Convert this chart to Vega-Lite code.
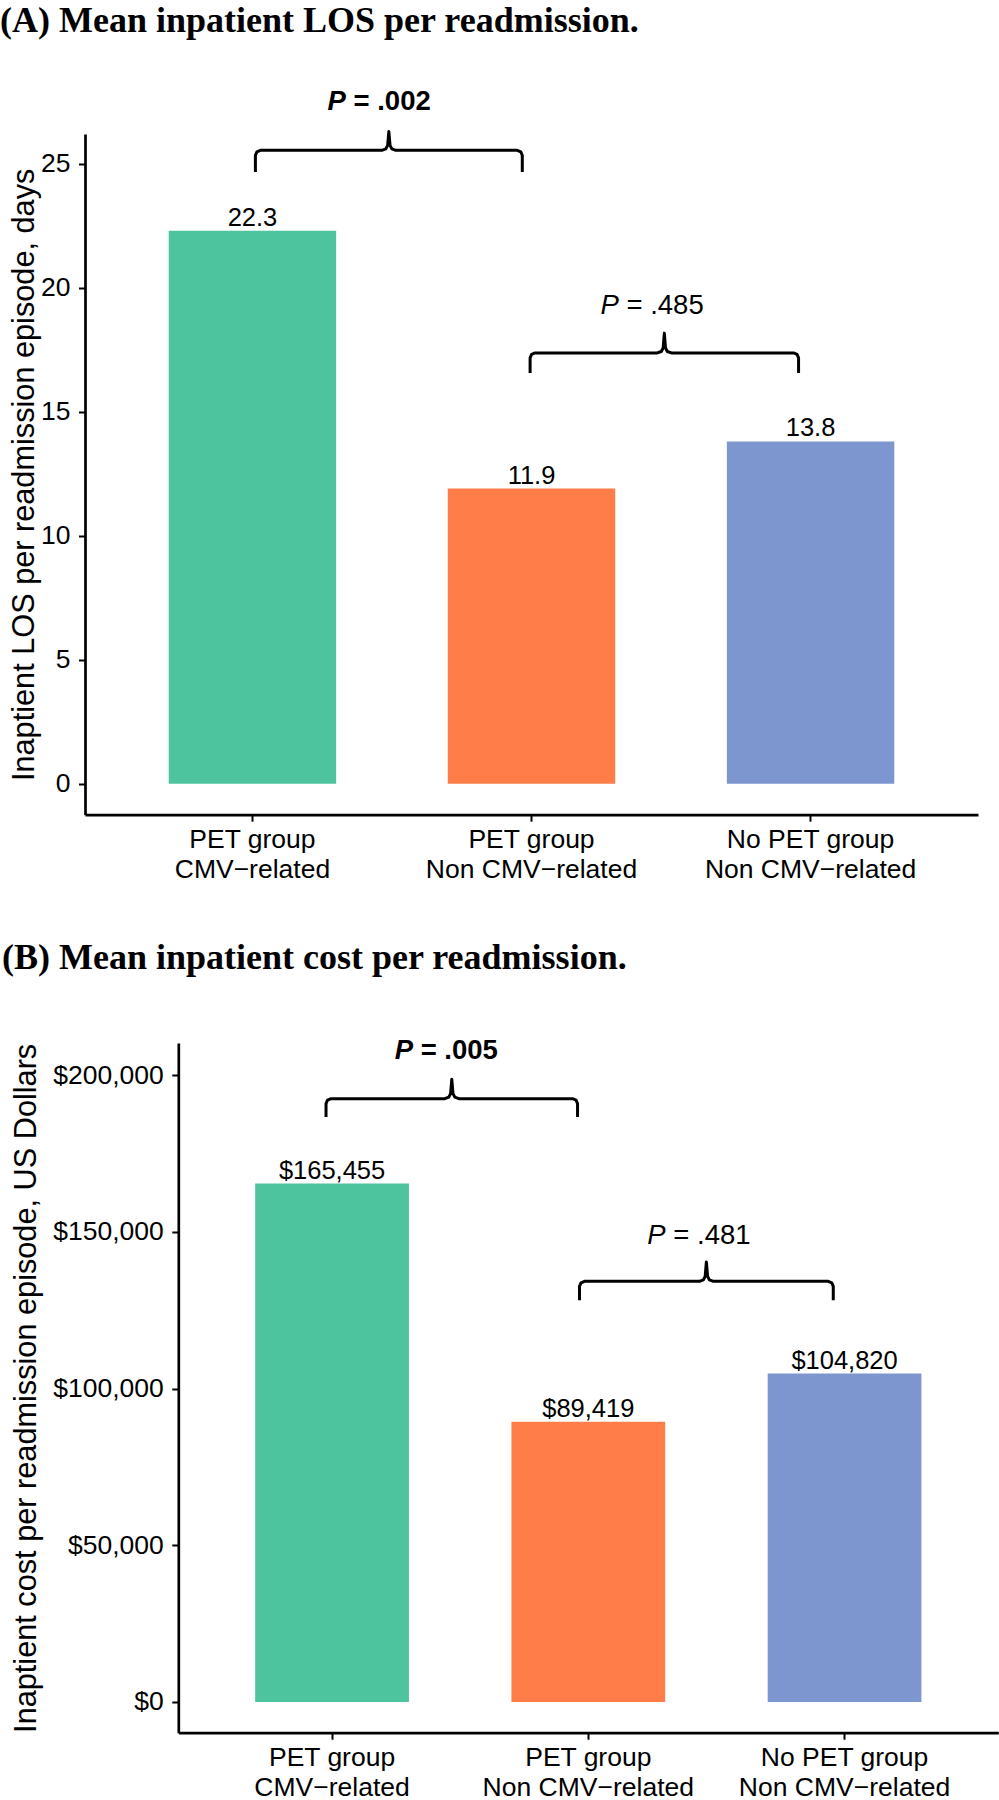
{
  "$schema": "https://vega.github.io/schema/vega-lite/v6.json",
  "background": "white",
  "padding": {"left": 0, "top": 2, "right": 0, "bottom": 0},
  "spacing": 57,
  "config": {
    "font": "Liberation Sans",
    "view": {"stroke": null},
    "axis": {
      "grid": false,
      "domainColor": "black",
      "domainWidth": 2.7,
      "tickColor": "black",
      "tickWidth": 2,
      "tickSize": 6.5,
      "labelColor": "black",
      "labelFont": "Liberation Sans",
      "labelFontSize": 26.5,
      "labelLimit": 0,
      "titleFont": "Liberation Sans",
      "titleFontSize": 30.7,
      "titleFontWeight": "normal",
      "titleColor": "black"
    },
    "axisX": {"labelAngle": 0, "labelPadding": 5, "labelLineHeight": 30},
    "axisY": {"labelPadding": 8.5}
  },
  "datasets": {
    "losBars": [
      {"group": "PET group|CMV−related", "value": 22.3, "label": "22.3"},
      {"group": "PET group|Non CMV−related", "value": 11.9, "label": "11.9"},
      {"group": "No PET group|Non CMV−related", "value": 13.8, "label": "13.8"}
    ],
    "costBars": [
      {"group": "PET group|CMV−related", "value": 165455, "label": "$165,455"},
      {"group": "PET group|Non CMV−related", "value": 89419, "label": "$89,419"},
      {"group": "No PET group|Non CMV−related", "value": 104820, "label": "$104,820"}
    ],
    "losP": [
      {"x": 1.335, "value": 27.15, "rest": "= .002", "sig": true},
      {"x": 2.313, "value": 18.95, "rest": "= .485", "sig": false}
    ],
    "costP": [
      {"x": 1.316, "value": 205317, "rest": "= .005", "sig": true},
      {"x": 2.302, "value": 146266, "rest": "= .481", "sig": false}
    ],
    "losBrackets": [
      {"id": "a1", "i": 1, "bx": 1.0106, "value": 24.67},
      {"id": "a1", "i": 2, "bx": 1.0106, "value": 25.34},
      {"id": "a1", "i": 3, "bx": 1.016, "value": 25.48},
      {"id": "a1", "i": 4, "bx": 1.0285, "value": 25.54},
      {"id": "a1", "i": 5, "bx": 1.4637, "value": 25.54},
      {"id": "a1", "i": 6, "bx": 1.478, "value": 25.6},
      {"id": "a1", "i": 7, "bx": 1.4845, "value": 25.74},
      {"id": "a1", "i": 8, "bx": 1.4888, "value": 26.3},
      {"id": "a1", "i": 9, "bx": 1.4931, "value": 25.74},
      {"id": "a1", "i": 10, "bx": 1.4996, "value": 25.6},
      {"id": "a1", "i": 11, "bx": 1.5139, "value": 25.54},
      {"id": "a1", "i": 12, "bx": 1.9491, "value": 25.54},
      {"id": "a1", "i": 13, "bx": 1.9616, "value": 25.48},
      {"id": "a1", "i": 14, "bx": 1.967, "value": 25.34},
      {"id": "a1", "i": 15, "bx": 1.967, "value": 24.67},
      {"id": "a2", "i": 1, "bx": 1.995, "value": 16.56},
      {"id": "a2", "i": 2, "bx": 1.995, "value": 17.17},
      {"id": "a2", "i": 3, "bx": 2.0004, "value": 17.31},
      {"id": "a2", "i": 4, "bx": 2.0129, "value": 17.37},
      {"id": "a2", "i": 5, "bx": 2.4509, "value": 17.37},
      {"id": "a2", "i": 6, "bx": 2.4652, "value": 17.43},
      {"id": "a2", "i": 7, "bx": 2.4717, "value": 17.57},
      {"id": "a2", "i": 8, "bx": 2.476, "value": 18.17},
      {"id": "a2", "i": 9, "bx": 2.4803, "value": 17.57},
      {"id": "a2", "i": 10, "bx": 2.4868, "value": 17.43},
      {"id": "a2", "i": 11, "bx": 2.5011, "value": 17.37},
      {"id": "a2", "i": 12, "bx": 2.9391, "value": 17.37},
      {"id": "a2", "i": 13, "bx": 2.9516, "value": 17.31},
      {"id": "a2", "i": 14, "bx": 2.957, "value": 17.17},
      {"id": "a2", "i": 15, "bx": 2.957, "value": 16.56}
    ],
    "costBrackets": [
      {"id": "b1", "i": 1, "bx": 0.9765, "value": 186703},
      {"id": "b1", "i": 2, "bx": 0.9765, "value": 190947},
      {"id": "b1", "i": 3, "bx": 0.9824, "value": 192064},
      {"id": "b1", "i": 4, "bx": 0.996, "value": 192543},
      {"id": "b1", "i": 5, "bx": 1.44, "value": 192543},
      {"id": "b1", "i": 6, "bx": 1.4556, "value": 193022},
      {"id": "b1", "i": 7, "bx": 1.4626, "value": 194139},
      {"id": "b1", "i": 8, "bx": 1.4673, "value": 198702},
      {"id": "b1", "i": 9, "bx": 1.472, "value": 194139},
      {"id": "b1", "i": 10, "bx": 1.479, "value": 193022},
      {"id": "b1", "i": 11, "bx": 1.4946, "value": 192543},
      {"id": "b1", "i": 12, "bx": 1.9385, "value": 192543},
      {"id": "b1", "i": 13, "bx": 1.9522, "value": 192064},
      {"id": "b1", "i": 14, "bx": 1.958, "value": 190947},
      {"id": "b1", "i": 15, "bx": 1.958, "value": 186703},
      {"id": "b2", "i": 1, "bx": 1.9656, "value": 128170},
      {"id": "b2", "i": 2, "bx": 1.9656, "value": 132639},
      {"id": "b2", "i": 3, "bx": 1.9715, "value": 133756},
      {"id": "b2", "i": 4, "bx": 1.9851, "value": 134235},
      {"id": "b2", "i": 5, "bx": 2.4335, "value": 134235},
      {"id": "b2", "i": 6, "bx": 2.4491, "value": 134714},
      {"id": "b2", "i": 7, "bx": 2.4561, "value": 135831},
      {"id": "b2", "i": 8, "bx": 2.4608, "value": 140426},
      {"id": "b2", "i": 9, "bx": 2.4655, "value": 135831},
      {"id": "b2", "i": 10, "bx": 2.4725, "value": 134714},
      {"id": "b2", "i": 11, "bx": 2.4881, "value": 134235},
      {"id": "b2", "i": 12, "bx": 2.9365, "value": 134235},
      {"id": "b2", "i": 13, "bx": 2.9502, "value": 133756},
      {"id": "b2", "i": 14, "bx": 2.956, "value": 132639},
      {"id": "b2", "i": 15, "bx": 2.956, "value": 128170}
    ]
  },
  "vconcat": [
    {
      "title": {"text": "(A) Mean inpatient LOS per readmission.", "anchor": "start", "frame": "bounds", "font": "Liberation Serif", "fontSize": 36, "fontWeight": "bold", "color": "black", "offset": 48.5, "dx": -8},
      "width": 893,
      "height": 680.7,
      "resolve": {"scale": {"x": "independent"}},
      "layer": [
        {
          "data": {"name": "losBars"},
          "mark": {"type": "bar"},
          "encoding": {
            "x": {"field": "group", "type": "nominal", "sort": null, "scale": {"type": "band", "paddingInner": 0.4, "paddingOuter": 0.3}, "axis": {"title": null, "labelExpr": "split(datum.label, '|')"}},
            "y": {"field": "value", "type": "quantitative", "scale": {"domain": [-1.25, 26.2], "nice": false, "zero": false}, "axis": {"title": "Inaptient LOS per readmission episode, days", "values": [0, 5, 10, 15, 20, 25], "titleX": -52, "titleY": 340.35, "titleBaseline": "alphabetic", "titleAngle": -90}},
            "y2": {"datum": 0},
            "color": {"field": "group", "type": "nominal", "sort": null, "scale": {"range": ["#4DC49D", "#FF7D49", "#7E96D0"]}, "legend": null}
          }
        },
        {
          "data": {"name": "losBars"},
          "mark": {"type": "text", "dy": -5, "baseline": "alphabetic", "fontSize": 25.5, "color": "black"},
          "encoding": {
            "x": {"field": "group", "type": "nominal", "sort": null, "scale": {"type": "band", "paddingInner": 0.4, "paddingOuter": 0.3}, "axis": null},
            "y": {"field": "value", "type": "quantitative", "scale": {"domain": [-1.25, 26.2], "nice": false, "zero": false}},
            "text": {"field": "label"}
          }
        },
        {
          "data": {"name": "losBrackets"},
          "mark": {"type": "line", "color": "black", "strokeWidth": 3, "strokeJoin": "round"},
          "encoding": {
            "x": {"field": "bx", "type": "quantitative", "scale": {"domain": [0.4, 3.6], "nice": false, "zero": false}, "axis": null},
            "y": {"field": "value", "type": "quantitative", "scale": {"domain": [-1.25, 26.2], "nice": false, "zero": false}},
            "detail": {"field": "id"},
            "order": {"field": "i", "type": "quantitative"}
          }
        },
        {
          "data": {"name": "losP"},
          "transform": [{"filter": "datum.sig"}],
          "mark": {"type": "text", "align": "right", "baseline": "alphabetic", "fontSize": 27.5, "fontStyle": "italic", "fontWeight": "bold", "color": "black"},
          "encoding": {
            "x": {"field": "x", "type": "quantitative", "scale": {"domain": [0.4, 3.6], "nice": false, "zero": false}, "axis": null},
            "y": {"field": "value", "type": "quantitative", "scale": {"domain": [-1.25, 26.2], "nice": false, "zero": false}},
            "text": {"value": "P"}
          }
        },
        {
          "data": {"name": "losP"},
          "transform": [{"filter": "!datum.sig"}],
          "mark": {"type": "text", "align": "right", "baseline": "alphabetic", "fontSize": 27.5, "fontStyle": "italic", "fontWeight": "normal", "color": "black"},
          "encoding": {
            "x": {"field": "x", "type": "quantitative", "scale": {"domain": [0.4, 3.6], "nice": false, "zero": false}, "axis": null},
            "y": {"field": "value", "type": "quantitative", "scale": {"domain": [-1.25, 26.2], "nice": false, "zero": false}},
            "text": {"value": "P"}
          }
        },
        {
          "data": {"name": "losP"},
          "transform": [{"filter": "datum.sig"}],
          "mark": {"type": "text", "align": "left", "dx": 7.6, "baseline": "alphabetic", "fontSize": 27.5, "fontWeight": "bold", "color": "black"},
          "encoding": {
            "x": {"field": "x", "type": "quantitative", "scale": {"domain": [0.4, 3.6], "nice": false, "zero": false}, "axis": null},
            "y": {"field": "value", "type": "quantitative", "scale": {"domain": [-1.25, 26.2], "nice": false, "zero": false}},
            "text": {"field": "rest"}
          }
        },
        {
          "data": {"name": "losP"},
          "transform": [{"filter": "!datum.sig"}],
          "mark": {"type": "text", "align": "left", "dx": 7.6, "baseline": "alphabetic", "fontSize": 27.5, "fontWeight": "normal", "color": "black"},
          "encoding": {
            "x": {"field": "x", "type": "quantitative", "scale": {"domain": [0.4, 3.6], "nice": false, "zero": false}, "axis": null},
            "y": {"field": "value", "type": "quantitative", "scale": {"domain": [-1.25, 26.2], "nice": false, "zero": false}},
            "text": {"field": "rest"}
          }
        }
      ]
    },
    {
      "title": {"text": "(B) Mean inpatient cost per readmission.", "anchor": "start", "frame": "bounds", "font": "Liberation Serif", "fontSize": 36, "fontWeight": "bold", "color": "black", "offset": 59.5, "dx": -8},
      "width": 913.3,
      "height": 689.7,
      "resolve": {"scale": {"x": "independent"}},
      "layer": [
        {
          "data": {"name": "costBars"},
          "mark": {"type": "bar"},
          "encoding": {
            "x": {"field": "group", "type": "nominal", "sort": null, "scale": {"type": "band", "paddingInner": 0.4, "paddingOuter": 0.3, "range": [93.3, 913.3]}, "axis": {"title": null, "labelExpr": "split(datum.label, '|')"}},
            "y": {"field": "value", "type": "quantitative", "scale": {"domain": [-9800, 210300], "nice": false, "zero": false}, "axis": {"title": "Inaptient cost per readmission episode, US Dollars", "values": [0, 50000, 100000, 150000, 200000], "format": "$,.0f", "offset": -93.3, "titleX": -143.3, "titleY": 344.85, "titleBaseline": "alphabetic", "titleAngle": -90}},
            "y2": {"datum": 0},
            "color": {"field": "group", "type": "nominal", "sort": null, "scale": {"range": ["#4DC49D", "#FF7D49", "#7E96D0"]}, "legend": null}
          }
        },
        {
          "data": {"name": "costBars"},
          "mark": {"type": "text", "dy": -5, "baseline": "alphabetic", "fontSize": 25.5, "color": "black"},
          "encoding": {
            "x": {"field": "group", "type": "nominal", "sort": null, "scale": {"type": "band", "paddingInner": 0.4, "paddingOuter": 0.3, "range": [93.3, 913.3]}, "axis": null},
            "y": {"field": "value", "type": "quantitative", "scale": {"domain": [-9800, 210300], "nice": false, "zero": false}},
            "text": {"field": "label"}
          }
        },
        {
          "data": {"name": "costBrackets"},
          "mark": {"type": "line", "color": "black", "strokeWidth": 3, "strokeJoin": "round"},
          "encoding": {
            "x": {"field": "bx", "type": "quantitative", "scale": {"domain": [0.4, 3.6], "nice": false, "zero": false, "range": [93.3, 913.3]}, "axis": null},
            "y": {"field": "value", "type": "quantitative", "scale": {"domain": [-9800, 210300], "nice": false, "zero": false}},
            "detail": {"field": "id"},
            "order": {"field": "i", "type": "quantitative"}
          }
        },
        {
          "data": {"name": "costP"},
          "transform": [{"filter": "datum.sig"}],
          "mark": {"type": "text", "align": "right", "baseline": "alphabetic", "fontSize": 27.5, "fontStyle": "italic", "fontWeight": "bold", "color": "black"},
          "encoding": {
            "x": {"field": "x", "type": "quantitative", "scale": {"domain": [0.4, 3.6], "nice": false, "zero": false, "range": [93.3, 913.3]}, "axis": null},
            "y": {"field": "value", "type": "quantitative", "scale": {"domain": [-9800, 210300], "nice": false, "zero": false}},
            "text": {"value": "P"}
          }
        },
        {
          "data": {"name": "costP"},
          "transform": [{"filter": "!datum.sig"}],
          "mark": {"type": "text", "align": "right", "baseline": "alphabetic", "fontSize": 27.5, "fontStyle": "italic", "fontWeight": "normal", "color": "black"},
          "encoding": {
            "x": {"field": "x", "type": "quantitative", "scale": {"domain": [0.4, 3.6], "nice": false, "zero": false, "range": [93.3, 913.3]}, "axis": null},
            "y": {"field": "value", "type": "quantitative", "scale": {"domain": [-9800, 210300], "nice": false, "zero": false}},
            "text": {"value": "P"}
          }
        },
        {
          "data": {"name": "costP"},
          "transform": [{"filter": "datum.sig"}],
          "mark": {"type": "text", "align": "left", "dx": 7.6, "baseline": "alphabetic", "fontSize": 27.5, "fontWeight": "bold", "color": "black"},
          "encoding": {
            "x": {"field": "x", "type": "quantitative", "scale": {"domain": [0.4, 3.6], "nice": false, "zero": false, "range": [93.3, 913.3]}, "axis": null},
            "y": {"field": "value", "type": "quantitative", "scale": {"domain": [-9800, 210300], "nice": false, "zero": false}},
            "text": {"field": "rest"}
          }
        },
        {
          "data": {"name": "costP"},
          "transform": [{"filter": "!datum.sig"}],
          "mark": {"type": "text", "align": "left", "dx": 7.6, "baseline": "alphabetic", "fontSize": 27.5, "fontWeight": "normal", "color": "black"},
          "encoding": {
            "x": {"field": "x", "type": "quantitative", "scale": {"domain": [0.4, 3.6], "nice": false, "zero": false, "range": [93.3, 913.3]}, "axis": null},
            "y": {"field": "value", "type": "quantitative", "scale": {"domain": [-9800, 210300], "nice": false, "zero": false}},
            "text": {"field": "rest"}
          }
        }
      ]
    }
  ]
}
